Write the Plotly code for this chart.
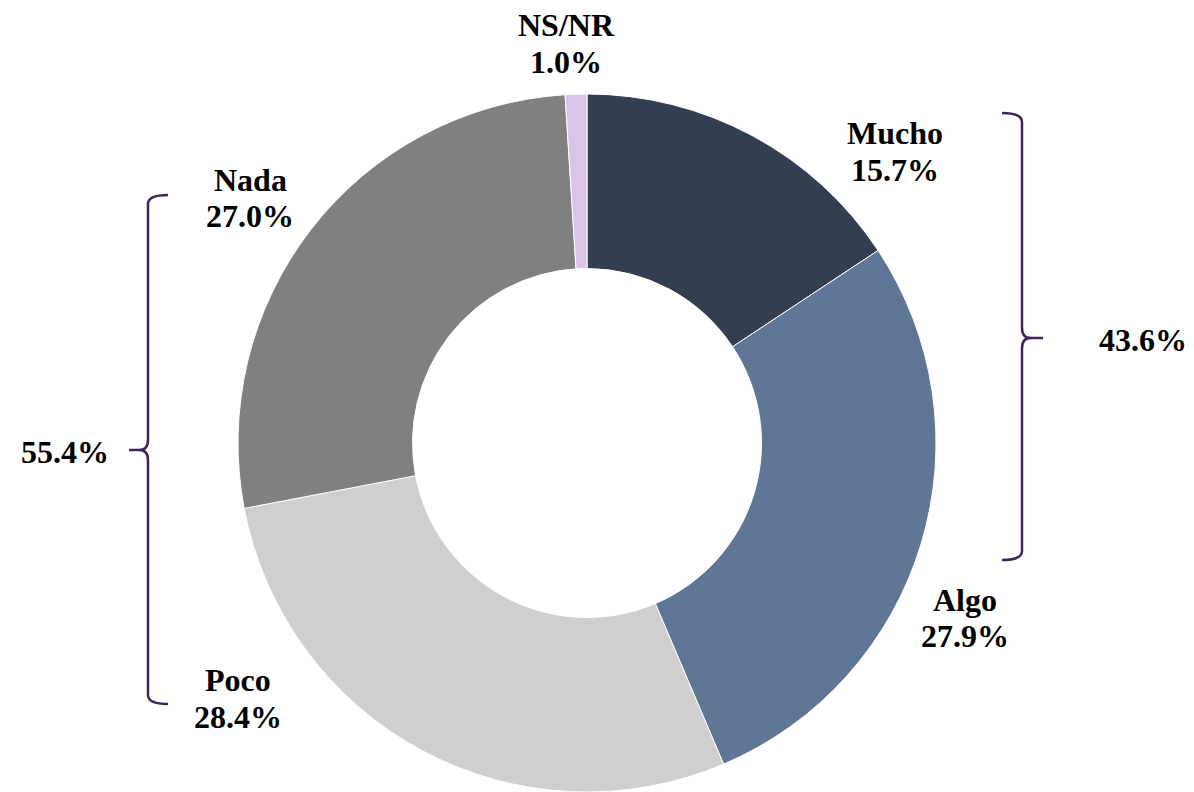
import plotly.graph_objects as go

W, H = 1194, 792

labels = ["Mucho", "Algo", "Poco", "Nada", "NS/NR"]
values = [15.7, 27.9, 28.4, 27.0, 1.0]
colors = ["#333F50", "#5F7696", "#D0CECE", "#808080", "#D9C3E9"]
group_right = ["Mucho", "Algo"]
group_left = ["Poco", "Nada"]

FONT = "Liberation Serif"
FS = 32
BRACKET = "#3F2459"

def px(x):
    return x / W

def py(y):
    return 1 - y / H

cx, cy, r = 587, 443, 349

fig = go.Figure(go.Pie(
    labels=labels, values=values, sort=False, direction="clockwise",
    rotation=0, hole=0.5, textinfo="none", hoverinfo="label+percent",
    marker=dict(colors=colors, line=dict(color="white", width=1)),
    domain=dict(x=[px(cx - r), px(cx + r)], y=[py(cy + r), py(cy - r)]),
    showlegend=False,
))

# (x center, y of first line, y of second line)
label_pos = {
    "Mucho": (895, 133, 170),
    "Algo": (965, 600, 636),
    "Poco": (238, 680, 717),
    "Nada": (250, 180, 216),
    "NS/NR": (566, 25, 62),
}

def add_text(x, y, text):
    return dict(
        x=px(x), y=py(y), xref="paper", yref="paper",
        text=f"<b>{text}</b>", showarrow=False,
        xanchor="center", yanchor="middle",
        font=dict(family=FONT, size=FS, color="black"),
    )

annotations = []
for lab, val in zip(labels, values):
    x, y1, y2 = label_pos[lab]
    annotations.append(add_text(x, y1, lab))
    annotations.append(add_text(x, y2, f"{val:.1f}%"))

tot_right = sum(v for l, v in zip(labels, values) if l in group_right)
tot_left = sum(v for l, v in zip(labels, values) if l in group_left)
annotations.append(add_text(1143, 340, f"{tot_right:.1f}%"))
annotations.append(add_text(65, 452, f"{tot_left:.1f}%"))

def path(cmds):
    out = []
    for c in cmds:
        if isinstance(c, str):
            out.append(c)
        else:
            out.append(f"{px(c[0]):.5f},{py(c[1]):.5f}")
    return " ".join(out)

right = path([
    "M", (1002, 113), "Q", (1022, 113), (1022, 122),
    "L", (1022, 328), "Q", (1022, 338), (1031, 338), "L", (1043, 338),
    "M", (1031, 338), "Q", (1022, 338), (1022, 348),
    "L", (1022, 551), "Q", (1022, 560), (1002, 560),
])
left = path([
    "M", (168, 195), "Q", (148, 195), (148, 204),
    "L", (148, 440), "Q", (148, 450), (139, 450), "L", (129, 450),
    "M", (139, 450), "Q", (148, 450), (148, 460),
    "L", (148, 695), "Q", (148, 704), (168, 704),
])

shapes = [
    dict(type="path", path=right, xref="paper", yref="paper",
         line=dict(color=BRACKET, width=2.5)),
    dict(type="path", path=left, xref="paper", yref="paper",
         line=dict(color=BRACKET, width=2.5)),
]

fig.update_layout(
    width=W, height=H, margin=dict(l=0, r=0, t=0, b=0),
    paper_bgcolor="white", plot_bgcolor="white",
    annotations=annotations, shapes=shapes,
)

fig.write_html(
    "out.html",
    config={"displayModeBar": False},
    post_script="document.body.style.margin='0';document.body.style.overflow='hidden';",
)
